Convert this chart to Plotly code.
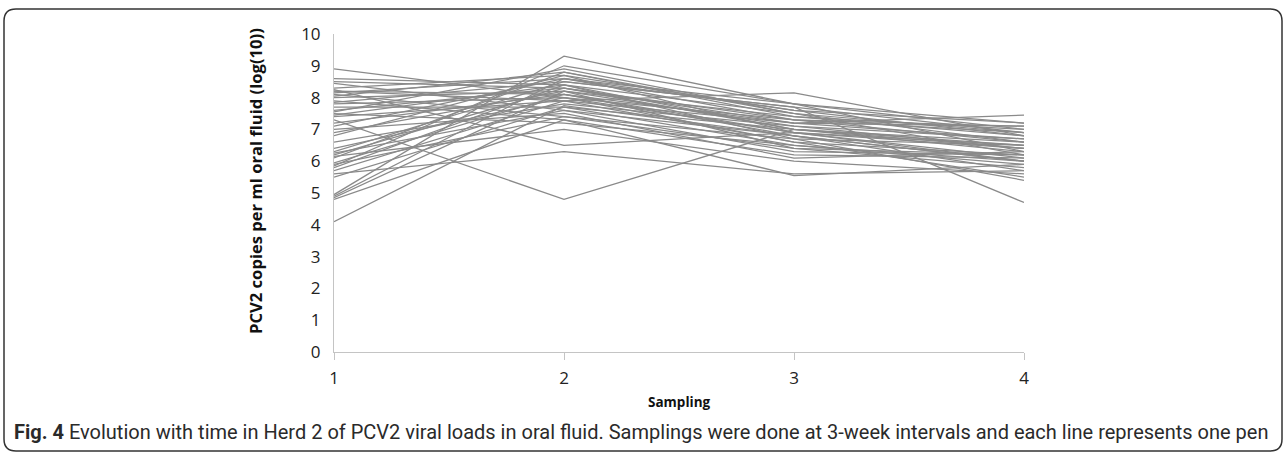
import plotly.graph_objects as go

sampling = [1, 2, 3, 4]

# PCV2 load (log10 copies/ml) per pen at each sampling
sampling1 = [8.9, 8.6, 8.5, 8.45, 8.3, 8.25, 8.2, 8.2, 8.15, 8.1, 8.05, 8.0, 7.9, 7.85, 7.8, 7.7,
             7.6, 7.55, 7.5, 7.45, 7.4, 7.3, 7.2, 7.1, 7.0, 6.9, 6.8, 6.6, 6.4, 6.3, 6.25, 6.2,
             6.15, 6.1, 5.95, 5.9, 5.85, 5.8, 5.7, 5.6, 5.5, 4.95, 4.9, 4.85, 4.8, 4.1]
sampling2 = [8.0, 8.4, 8.3, 7.6, 8.7, 6.5, 8.1, 7.9, 8.6, 7.4, 8.8, 8.2, 7.3, 8.5, 8.0, 7.7,
             8.3, 8.9, 7.2, 8.4, 7.9, 4.8, 8.1, 8.6, 7.5, 8.2, 8.7, 7.8, 8.0, 8.5, 7.6, 8.3,
             7.0, 8.8, 8.1, 7.4, 9.0, 8.4, 7.9, 6.3, 7.7, 9.3, 8.6, 8.2, 7.3, 7.75]
sampling3 = [7.3, 7.5, 7.0, 6.8, 7.6, 6.9, 7.2, 6.6, 7.8, 6.4, 7.4, 7.1, 6.2, 7.7, 6.9, 7.0,
             7.3, 7.5, 6.5, 6.7, 7.2, 7.0, 6.8, 7.6, 6.1, 7.4, 6.9, 7.1, 6.6, 7.7, 6.3, 7.2,
             6.0, 7.5, 6.9, 6.7, 7.8, 7.0, 8.15, 5.6, 6.5, 7.8, 7.3, 6.4, 5.55, 6.8]
sampling4 = [6.6, 6.9, 6.3, 6.0, 7.2, 6.5, 6.7, 6.2, 7.0, 5.8, 6.8, 6.4, 6.1, 4.7, 6.0, 6.6,
             6.9, 6.2, 5.9, 6.5, 7.1, 6.4, 5.7, 6.8, 6.3, 7.0, 6.1, 6.7, 5.5, 6.9, 6.2, 7.45,
             5.6, 6.6, 6.4, 5.4, 7.2, 6.5, 6.8, 5.7, 6.0, 6.3, 7.1, 6.2, 5.9, 6.0]

y_ticks = list(range(0, 11))

fig = go.Figure()
for i in range(len(sampling1)):
    fig.add_trace(go.Scatter(
        x=sampling,
        y=[sampling1[i], sampling2[i], sampling3[i], sampling4[i]],
        mode="lines",
        line=dict(color="#8a8a8a", width=1.25),
        showlegend=False,
        hoverinfo="skip",
    ))

# plot area in pixels: x 334..1024, y 34..352
L, R, T, B = 334, 1024, 34, 352
W, H = 1287, 455
pw, ph = R - L, B - T


def px(x):
    return (x - L) / pw


def py(y):
    return (B - y) / ph


fig.update_layout(
    width=W, height=H,
    margin=dict(l=L, r=W - R, t=T, b=H - B),
    paper_bgcolor="white", plot_bgcolor="white",
    font=dict(family="Open Sans", color="#222"),
    xaxis=dict(
        range=[1, 4], tickvals=sampling, ticktext=[str(s) for s in sampling],
        showgrid=False, zeroline=False, showline=True, linecolor="#c4c4c4", linewidth=1,
        ticks="outside", ticklen=7, tickcolor="#c4c4c4", ticklabelstandoff=4,
        tickfont=dict(size=17, family="Open Sans", color="#222"),
    ),
    yaxis=dict(
        range=[0, 10], tickvals=y_ticks,
        showgrid=False, zeroline=False, showline=True, linecolor="#c4c4c4", linewidth=1,
        ticks="", ticklabelstandoff=9,
        tickfont=dict(size=17, family="Open Sans", color="#222"),
    ),
)

fig.add_annotation(text="<b>Sampling</b>", xref="paper", yref="paper",
                   x=px(679), y=py(402), xanchor="center", yanchor="middle",
                   showarrow=False, font=dict(size=13.5, family="Open Sans", color="#111"))
fig.add_annotation(text="<b>PCV2 copies per ml oral fluid (log(10))</b>", xref="paper", yref="paper",
                   x=px(255), y=py(181), xanchor="center", yanchor="middle", textangle=-90,
                   showarrow=False, font=dict(size=16.6, family="Open Sans", color="#111"))
fig.add_annotation(text="<b>Fig. 4</b> Evolution with time in Herd 2 of PCV2 viral loads in oral fluid. "
                        "Samplings were done at 3-week intervals and each line represents one pen",
                   xref="paper", yref="paper", x=px(12), y=py(432), xanchor="left", yanchor="middle",
                   showarrow=False, font=dict(size=20, family="Roboto", color="#2a2a2a"))

# rounded frame
x0, x1, y0, y1, r = 4, 1282, 9, 451, 12
path = (f"M {px(x0 + r)} {py(y0)} L {px(x1 - r)} {py(y0)} Q {px(x1)} {py(y0)} {px(x1)} {py(y0 + r)} "
        f"L {px(x1)} {py(y1 - r)} Q {px(x1)} {py(y1)} {px(x1 - r)} {py(y1)} "
        f"L {px(x0 + r)} {py(y1)} Q {px(x0)} {py(y1)} {px(x0)} {py(y1 - r)} "
        f"L {px(x0)} {py(y0 + r)} Q {px(x0)} {py(y0)} {px(x0 + r)} {py(y0)} Z")
fig.add_shape(type="path", path=path, xref="paper", yref="paper",
              line=dict(color="#333", width=1.5), layer="above")

fig.write_html("out.html", config={"displayModeBar": False},
               post_script="document.body.style.margin='0';")
